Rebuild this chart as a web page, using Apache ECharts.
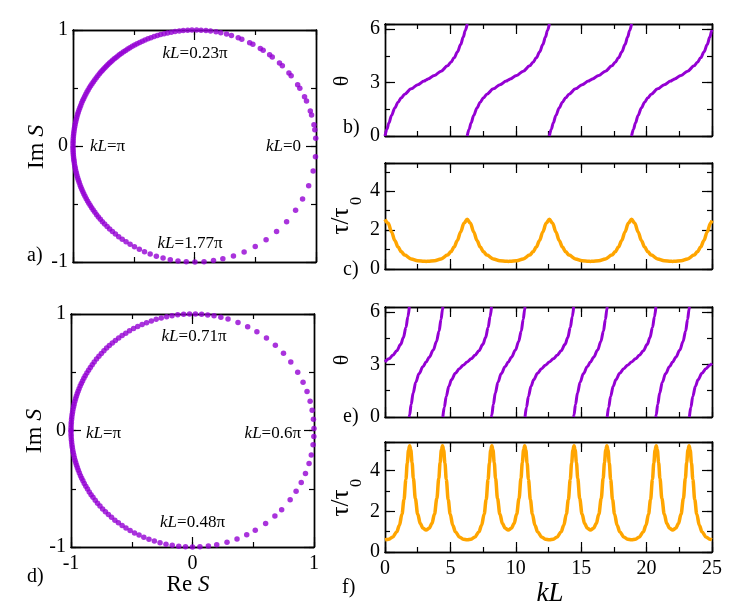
<!DOCTYPE html>
<html><head><meta charset="utf-8">
<script src="https://cdn.jsdelivr.net/npm/echarts@6/dist/echarts.min.js"></script>
<style>html,body{margin:0;padding:0;background:#fff}#c{width:736px;height:608px}</style>
</head><body><div id="c"></div>
<script>
// ---------- data ----------
// panel a: positions of the dots on the unit circle, as the angle of S in degrees
const dotsA = [3.8,8,10.5,15.5,17.6,22.8,25.1,29.9,31.9,37.3,39,43.7,45.6,50.2,51.8,55.6,57.2,61.3,63,67.1,68.9,72.3,74.7,77.5,79.8,82.4,84.6,86.9,89,91.2,93.2,95.3,97.2,99.2,101,102.8,104.5,106.2,107.8,109.4,111,112.5,114,115.4,116.8,118.2,119.5,120.8,122.1,123.3,124.5,125.7,126.9,128,129.1,130.2,131.3,132.4,133.4,134.4,135.4,136.4,137.4,138.4,139.4,140.4,141.5,142.7,143.9,145.1,146.3,147.5,148.7,149.9,151.1,152.3,153.5,154.7,155.9,157.1,158.3,159.5,160.7,161.9,163.1,164.3,165.5,166.7,167.9,169.1,170.3,171.5,172.7,173.9,175.1,176.3,177.5,178.7,
180,181,182.1,183.2,184.3,185.4,186.5,187.6,188.8,190,191.2,192.4,193.6,194.8,196,197.2,198.4,199.6,200.8,202,203.2,204.4,205.7,207,208.3,209.6,210.9,212.2,213.5,214.9,216.3,217.7,219.2,220.7,222.3,224,225.7,227.5,229.4,231.4,233.5,235.7,238,240.4,243,245.7,248.6,251.7,255,258.5,262.2,266.1,270.2,274.5,279,283.5,288.7,294.1,300,306.1,312.5,319.3,326.3,332.8,340,347.6,354.7];
// panel d: angles of S (degrees)
const dotsD = [1,5.5,10,14.5,19.5,24.5,30,36,41.5,47,52.5,58,63,68,73,76.5,79.8,82.8,85.7,88.6,91.4,94.2,97,99.7,102.3,104.9,107.4,109.8,112.2,114.5,116.8,119,121.2,123.3,125.4,127.4,129.4,131.3,133.2,135,136.8,138.6,140.4,142.2,144,145.6,147.2,148.8,150.4,152,153.4,154.8,156.2,157.6,159,160.3,161.6,162.9,164.2,165.5,166.8,168.1,169.4,170.7,172,173.3,174.6,175.9,177.2,178.5,179.8,
-2.9,-7,-12.1,-16.4,-21.6,-26.5,-31.5,-36.5,-42.8,-47.3,-53,-58.9,-63.5,-68.5,-73.5,-78.5,-82.5,-86.5,-90,-93.3,-96.5,-99.6,-102.6,-105.5,-108.3,-111,-113.6,-116.1,-118.5,-120.9,-123.2,-125.4,-127.6,-129.7,-131.8,-133.8,-135.8,-137.7,-139.6,-141.4,-143.2,-145,-146.6,-148.2,-149.8,-151.4,-153,-154.4,-155.8,-157.2,-158.6,-160,-161.3,-162.6,-163.9,-165.2,-166.5,-167.8,-169.1,-170.4,-171.7,-173,-174.3,-175.6,-176.9,-178.2,-179.5];

// panel b: theta vs kL (null = jump 2pi -> 0)
const kLb = [0,0.15,0.3,0.5,0.75,1,1.25,1.5,2,2.5,3,3.142,3.283,3.783,4.283,4.783,5.033,5.283,5.533,5.783,5.983,6.133,6.283,6.283,
6.283,6.433,6.583,6.783,7.033,7.283,7.533,7.783,8.283,8.783,9.283,9.425,9.566,10.066,10.566,11.066,11.316,11.566,11.816,12.066,12.266,12.416,12.566,12.566,
12.566,12.716,12.866,13.066,13.316,13.566,13.816,14.066,14.566,15.066,15.566,15.708,15.849,16.349,16.849,17.349,17.599,17.849,18.099,18.349,18.549,18.699,18.850,18.850,
18.850,19.000,19.150,19.350,19.600,19.850,20.100,20.350,20.850,21.350,21.850,21.991,22.133,22.633,23.133,23.633,23.883,24.133,24.383,24.633,24.833,24.983,25];
const thetaB = [0,0.379,0.736,1.154,1.575,1.896,2.146,2.345,2.648,2.882,3.086,3.142,3.197,3.401,3.635,3.938,4.137,4.387,4.709,5.129,5.548,5.905,6.283,null,
0,0.379,0.736,1.154,1.575,1.896,2.146,2.345,2.648,2.882,3.086,3.142,3.197,3.401,3.635,3.938,4.137,4.387,4.709,5.129,5.548,5.905,6.283,null,
0,0.379,0.736,1.154,1.575,1.896,2.146,2.345,2.648,2.882,3.086,3.142,3.197,3.401,3.635,3.938,4.137,4.387,4.709,5.129,5.548,5.905,6.283,null,
0,0.379,0.736,1.154,1.575,1.896,2.146,2.345,2.648,2.882,3.086,3.142,3.197,3.401,3.635,3.938,4.137,4.387,4.709,5.129,5.548,5.905,5.947];

// panel c: tau/tau0 vs kL
const kLc = [0,0.25,0.5,0.75,1,1.25,1.5,2,2.5,3,3.142,3.283,3.783,4.283,4.783,5.033,5.283,5.533,5.783,6.033,
6.283,6.533,6.783,7.033,7.283,7.533,7.783,8.283,8.783,9.283,9.425,9.566,10.066,10.566,11.066,11.316,11.566,11.816,12.066,12.316,
12.566,12.816,13.066,13.316,13.566,13.816,14.066,14.566,15.066,15.566,15.708,15.849,16.349,16.849,17.349,17.599,17.849,18.099,18.349,18.599,
18.850,19.100,19.350,19.600,19.850,20.100,20.350,20.850,21.350,21.850,21.991,22.133,22.633,23.133,23.633,23.883,24.133,24.383,24.633,24.883,25];
const tauC = [2.552,2.350,1.908,1.467,1.125,0.884,0.716,0.520,0.428,0.393,0.392,0.393,0.428,0.520,0.716,0.884,1.125,1.467,1.908,2.350,
2.552,2.350,1.908,1.467,1.125,0.884,0.716,0.520,0.428,0.393,0.392,0.393,0.428,0.520,0.716,0.884,1.125,1.467,1.908,2.350,
2.552,2.350,1.908,1.467,1.125,0.884,0.716,0.520,0.428,0.393,0.392,0.393,0.428,0.520,0.716,0.884,1.125,1.467,1.908,2.350,
2.552,2.350,1.908,1.467,1.125,0.884,0.716,0.520,0.428,0.393,0.392,0.393,0.428,0.520,0.716,0.884,1.125,1.467,1.908,2.350,2.492];

// panel e: theta vs kL (null = jump)
const kLe = [0,0.3,0.6,0.9,1.2,1.4,1.6,1.75,1.86,1.86,
1.86,1.885,2.0,2.15,2.35,2.6,2.9,3.142,3.383,3.683,3.933,4.133,4.283,4.398,4.423,4.423,
4.423,4.533,4.683,4.883,5.083,5.383,5.683,5.983,6.283,6.583,6.883,7.183,7.483,7.683,7.883,8.033,8.143,8.143,
8.143,8.168,8.283,8.433,8.633,8.883,9.183,9.425,9.666,9.966,10.216,10.416,10.566,10.681,10.706,10.706,
10.706,10.816,10.966,11.166,11.366,11.666,11.966,12.266,12.566,12.866,13.166,13.466,13.766,13.966,14.166,14.316,14.426,14.426,
14.426,14.451,14.566,14.716,14.916,15.166,15.466,15.708,15.949,16.249,16.499,16.699,16.849,16.964,16.989,16.989,
16.989,17.099,17.249,17.449,17.649,17.949,18.249,18.549,18.850,19.150,19.450,19.750,20.050,20.250,20.450,20.600,20.710,20.710,
20.710,20.735,20.850,21.000,21.200,21.450,21.750,21.991,22.233,22.533,22.783,22.983,23.133,23.248,23.273,23.273,
23.273,23.383,23.533,23.733,23.933,24.233,24.533,24.833,25];
const thetaE = [3.142,3.323,3.528,3.783,4.152,4.530,5.108,5.732,6.283,null,
0,0.130,0.716,1.367,1.981,2.474,2.874,3.142,3.409,3.809,4.302,4.916,5.567,6.153,6.283,null,
0,0.551,1.175,1.753,2.131,2.500,2.755,2.960,3.142,3.323,3.528,3.783,4.152,4.530,5.108,5.732,6.283,null,
0,0.130,0.716,1.367,1.981,2.474,2.874,3.142,3.409,3.809,4.302,4.916,5.567,6.153,6.283,null,
0,0.551,1.175,1.753,2.131,2.500,2.755,2.960,3.142,3.323,3.528,3.783,4.152,4.530,5.108,5.732,6.283,null,
0,0.130,0.716,1.367,1.981,2.474,2.874,3.142,3.409,3.809,4.302,4.916,5.567,6.153,6.283,null,
0,0.551,1.175,1.753,2.131,2.500,2.755,2.960,3.142,3.323,3.528,3.783,4.152,4.530,5.108,5.732,6.283,null,
0,0.130,0.716,1.367,1.981,2.474,2.874,3.142,3.409,3.809,4.302,4.916,5.567,6.153,6.283,null,
0,0.551,1.175,1.753,2.131,2.500,2.755,2.960,3.061];

// panel f: tau/tau0 vs kL
const kLf = [0,0.3,0.6,0.9,1.1,1.3,1.45,1.6,1.7,1.8,1.885,1.97,2.07,2.17,2.32,2.5,2.7,2.9,3.142,3.383,3.583,3.783,3.963,4.113,4.213,4.313,4.398,4.483,4.583,4.683,4.833,4.983,5.183,5.383,5.683,5.983,
6.283,6.583,6.883,7.183,7.383,7.583,7.733,7.883,7.983,8.083,8.168,8.253,8.353,8.453,8.603,8.783,8.983,9.183,9.425,9.666,9.866,10.066,10.246,10.396,10.496,10.596,10.681,10.766,10.866,10.966,11.116,11.266,11.466,11.666,11.966,12.266,
12.566,12.866,13.166,13.466,13.666,13.866,14.016,14.166,14.266,14.366,14.451,14.536,14.636,14.736,14.886,15.066,15.266,15.466,15.708,15.949,16.149,16.349,16.529,16.679,16.779,16.879,16.964,17.049,17.149,17.249,17.399,17.549,17.749,17.949,18.249,18.549,
18.850,19.150,19.450,19.750,19.950,20.150,20.300,20.450,20.550,20.650,20.735,20.820,20.920,21.020,21.170,21.350,21.550,21.750,21.991,22.233,22.433,22.633,22.813,22.963,23.063,23.163,23.248,23.333,23.433,23.533,23.683,23.833,24.033,24.233,24.533,24.833,25];
const tauF = [0.599,0.631,0.742,0.994,1.310,1.869,2.564,3.575,4.362,5.009,5.220,5.021,4.387,3.615,2.628,1.860,1.393,1.163,1.076,1.163,1.393,1.860,2.628,3.615,4.387,5.021,5.220,5.009,4.362,3.575,2.564,1.869,1.310,0.994,0.742,0.631,
0.599,0.631,0.742,0.994,1.310,1.869,2.564,3.575,4.362,5.009,5.220,5.021,4.387,3.615,2.628,1.860,1.393,1.163,1.076,1.163,1.393,1.860,2.628,3.615,4.387,5.021,5.220,5.009,4.362,3.575,2.564,1.869,1.310,0.994,0.742,0.631,
0.599,0.631,0.742,0.994,1.310,1.869,2.564,3.575,4.362,5.009,5.220,5.021,4.387,3.615,2.628,1.860,1.393,1.163,1.076,1.163,1.393,1.860,2.628,3.615,4.387,5.021,5.220,5.009,4.362,3.575,2.564,1.869,1.310,0.994,0.742,0.631,
0.599,0.631,0.742,0.994,1.310,1.869,2.564,3.575,4.362,5.009,5.220,5.021,4.387,3.615,2.628,1.860,1.393,1.163,1.076,1.163,1.393,1.860,2.628,3.615,4.387,5.021,5.220,5.009,4.362,3.575,2.564,1.869,1.310,0.994,0.742,0.631,0.605];

// tick labels
const circleTicks = [-1, 0, 1];
const thetaTicks = [0, 3, 6];
const tauTicks = [0, 2, 4];
const kLTicks = [0, 5, 10, 15, 20, 25];

// ---------- chart ----------
const FONT = 'Liberation Serif';
const PURPLE = '#9400D3', ORANGE = '#FFA500';
const xAxes = [], yAxes = [];
function mkAxis(dir, gi, pos, min, max, interval, tickLen, labelVals, margin) {
  const ax = {
    type: 'value', gridIndex: gi, position: pos, min: min, max: max, interval: interval,
    axisLine: {show: true, onZero: false, lineStyle: {color: '#000', width: 1.4}},
    axisTick: {show: true, inside: true, length: tickLen, lineStyle: {color: '#000', width: 1.2}},
    splitLine: {show: false},
    axisLabel: labelVals ? {
      show: true, margin: margin, color: '#000', fontFamily: FONT, fontSize: 20,
      formatter: function (v) { return labelVals.some(function (t) { return Math.abs(t - v) < 1e-6; }) ? String(Math.round(v)) : ''; }
    } : {show: false}
  };
  const arr = dir === 'x' ? xAxes : yAxes;
  arr.push(ax);
  return arr.length - 1;
}
function frame(gi, xr, yr, xLabels, yLabels) {
  const xi = mkAxis('x', gi, 'bottom', xr[0], xr[1], xr[2], 10, xLabels, 7);
  mkAxis('x', gi, 'bottom', xr[0], xr[1], xr[3], 5, null);
  mkAxis('x', gi, 'top', xr[0], xr[1], xr[2], 10, null);
  mkAxis('x', gi, 'top', xr[0], xr[1], xr[3], 5, null);
  const yi = mkAxis('y', gi, 'left', yr[0], yr[1], yr[2], 10, yLabels, 5);
  mkAxis('y', gi, 'left', yr[0], yr[1], yr[3], 5, null);
  mkAxis('y', gi, 'right', yr[0], yr[1], yr[2], 10, null);
  mkAxis('y', gi, 'right', yr[0], yr[1], yr[3], 5, null);
  return [xi, yi];
}
const grids = [
  {left: 73, top: 30, width: 243, height: 232},   // a
  {left: 385, top: 24, width: 327, height: 112},  // b
  {left: 385, top: 163, width: 327, height: 106}, // c
  {left: 71, top: 314, width: 243, height: 233},  // d
  {left: 385, top: 307, width: 327, height: 110}, // e
  {left: 385, top: 442, width: 327, height: 110}  // f
];
const TWO_PI = 6.2832;
const fa = frame(0, [-1, 1, 1, 0.5], [-1, 1, 1, 0.5], null, circleTicks);
const fb = frame(1, [0, 25, 5, 2.5], [0, TWO_PI, 3, 1.5], null, thetaTicks);
const fc = frame(2, [0, 25, 5, 2.5], [0, 5.45, 2, 1], null, tauTicks);
const fd = frame(3, [-1, 1, 1, 0.5], [-1, 1, 1, 0.5], circleTicks, circleTicks);
const fe = frame(4, [0, 25, 5, 2.5], [0, TWO_PI, 3, 1.5], null, thetaTicks);
const ff = frame(5, [0, 25, 5, 2.5], [0, 5.4, 2, 1], kLTicks, tauTicks);

function toXY(deg) { const r = deg * Math.PI / 180; return [Math.cos(r), Math.sin(r)]; }
function pairs(xs, ys) { return xs.map(function (x, i) { return [x, ys[i] === null ? '-' : ys[i]]; }); }

function lineSeries(f, xs, ys, color, width) {
  return {type: 'line', xAxisIndex: f[0], yAxisIndex: f[1], data: pairs(xs, ys), showSymbol: false,
    smooth: 0.35, smoothMonotone: 'x', connectNulls: false, clip: true, silent: true,
    lineStyle: {color: color, width: width}, itemStyle: {color: color}, z: 1};
}
function dotSeries(f, dots) {
  return {type: 'scatter', xAxisIndex: f[0], yAxisIndex: f[1], data: dots.map(toXY), symbolSize: 5.5,
    itemStyle: {color: PURPLE}, silent: true, z: 1};
}

function txt(x, y, text, size, opts) {
  const o = opts || {};
  return {type: 'text', x: x, y: y, rotation: o.rot || 0, z: 10, silent: true,
    style: {text: text, fill: '#000', fontFamily: FONT, fontSize: size, fontStyle: o.italic ? 'italic' : 'normal',
      align: o.align || 'center', verticalAlign: 'middle',
      rich: {i: {fontStyle: 'italic', fontFamily: FONT, fontSize: size, fill: '#000'}}}};
}
const R = Math.PI / 2;
const graphics = [
  txt(27, 256, 'a)', 20, {align: 'left'}),
  txt(343, 128, 'b)', 20, {align: 'left'}),
  txt(343, 270, 'c)', 20, {align: 'left'}),
  txt(27, 577, 'd)', 20, {align: 'left'}),
  txt(343, 417, 'e)', 20, {align: 'left'}),
  txt(342, 588, 'f)', 20, {align: 'left'}),
  txt(37, 147, 'Im {i|S}', 24, {rot: R}),
  txt(35, 431, 'Im {i|S}', 24, {rot: R}),
  txt(188, 585, 'Re {i|S}', 23),
  txt(342.5, 81, 'θ', 22, {rot: R}),
  txt(342.5, 360, 'θ', 22, {rot: R}),
  txt(341, 221, 'τ/τ', 25, {rot: R}),
  txt(357, 201, '0', 16, {rot: R}),
  txt(341, 503, 'τ/τ', 25, {rot: R}),
  txt(357, 483, '0', 16, {rot: R}),
  txt(550, 594, 'kL', 27, {italic: true}),
  txt(195, 54, '{i|kL}=0.23π', 17),
  txt(90, 147, '{i|kL}=π', 17, {align: 'left'}),
  txt(301, 147, '{i|kL}=0', 17, {align: 'right'}),
  txt(190, 244, '{i|kL}=1.77π', 17),
  txt(194, 337, '{i|kL}=0.71π', 17),
  txt(86, 434, '{i|kL}=π', 17, {align: 'left'}),
  txt(301, 434, '{i|kL}=0.6π', 17, {align: 'right'}),
  txt(192.5, 523, '{i|kL}=0.48π', 17)
];

const chart = echarts.init(document.getElementById('c'), null, {renderer: 'canvas'});
chart.setOption({
  animation: false,
  backgroundColor: '#fff',
  grid: grids,
  xAxis: xAxes,
  yAxis: yAxes,
  series: [
    dotSeries(fa, dotsA),
    lineSeries(fb, kLb, thetaB, PURPLE, 3),
    lineSeries(fc, kLc, tauC, ORANGE, 3.5),
    dotSeries(fd, dotsD),
    lineSeries(fe, kLe, thetaE, PURPLE, 3),
    lineSeries(ff, kLf, tauF, ORANGE, 3.5)
  ],
  graphic: graphics
});
</script>
</body></html>
